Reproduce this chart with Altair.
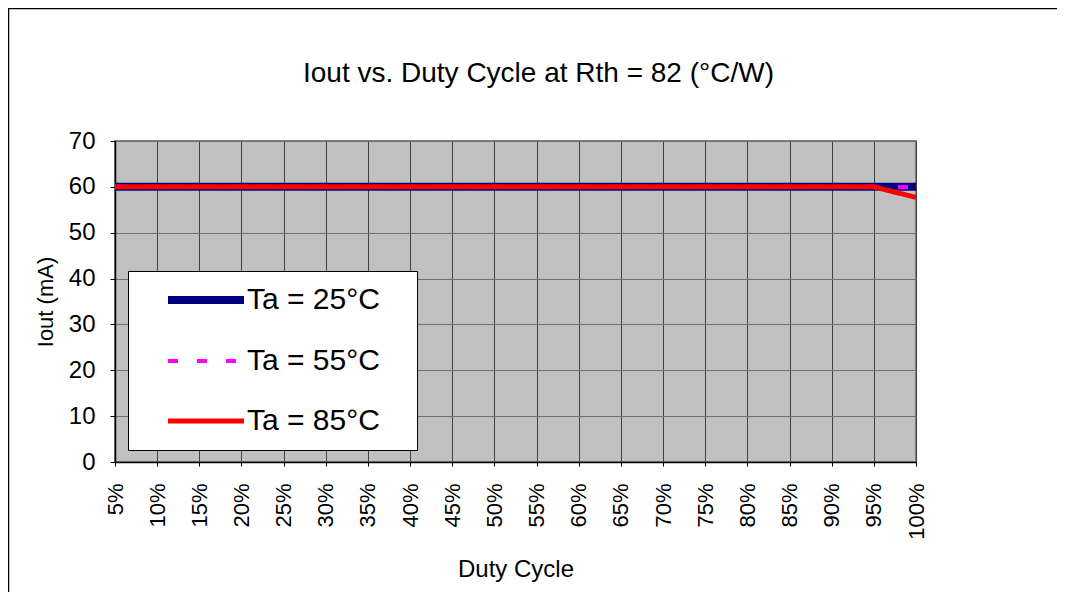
import altair as alt
import pandas as pd

duty = [5, 10, 15, 20, 25, 30, 35, 40, 45, 50, 55, 60, 65, 70, 75, 80, 85, 90, 95, 100]
ta25 = [60, 60, 60, 60, 60, 60, 60, 60, 60, 60, 60, 60, 60, 60, 60, 60, 60, 60, 60, 60]
ta55 = [60, 60, 60, 60, 60, 60, 60, 60, 60, 60, 60, 60, 60, 60, 60, 60, 60, 60, 60, 59.9]
ta85 = [60, 60, 60, 60, 60, 60, 60, 60, 60, 60, 60, 60, 60, 60, 60, 60, 60, 60, 60, 57.7]
series_names = ["Ta = 25°C", "Ta = 55°C", "Ta = 85°C"]
series_colors = ["#000080", "#FF00FF", "#FF0000"]
series_widths = [8, 4, 5]
series_dash = [[1, 0], [10, 19], [1, 0]]
x_ticks = duty
y_ticks = [0, 10, 20, 30, 40, 50, 60, 70]

rows = []
for name, vals in zip(series_names, [ta25, ta55, ta85]):
    for d, v in zip(duty, vals):
        rows.append({"duty": d, "iout": v, "series": name})
df = pd.DataFrame(rows)

FONT = "Liberation Sans"

x_enc = alt.X(
    "duty:Q",
    scale=alt.Scale(domain=[5, 100], nice=False, zero=False),
    axis=alt.Axis(
        values=x_ticks, labelExpr="datum.value + '%'", labelAngle=270,
        title="Duty Cycle", titleFontSize=24, titleFontWeight="normal",
        titlePadding=18, labelFontSize=22, labelPadding=17, tickSize=4,
        gridColor="#404040", gridWidth=1, domainColor="#000000", domainWidth=1.5,
        tickColor="#000000", labelColor="#000000", titleColor="#000000",
        labelFont=FONT, titleFont=FONT,
    ),
)
y_enc = alt.Y(
    "iout:Q",
    scale=alt.Scale(domain=[0, 70], nice=False),
    axis=alt.Axis(
        values=y_ticks, title="Iout (mA)", titleFontSize=22, titleFontWeight="normal",
        titlePadding=11, labelFontSize=24, labelPadding=15, tickSize=5,
        gridColor="#707070", gridWidth=1, domainColor="#000000", domainWidth=1.5,
        tickColor="#000000", labelColor="#000000", titleColor="#000000",
        labelFont=FONT, titleFont=FONT,
    ),
)

legend = alt.Legend(
    title="\u00a0", titleOrient="right", titlePadding=23, titleFontSize=2,
    orient="none", legendX=13, legendY=130,
    fillColor="#FFFFFF", strokeColor="#000000",
    symbolType="M-4,0L4,0", symbolSize=361, symbolOffset=49,
    labelFontSize=30, labelFont=FONT,
    labelColor="#000000", labelOffset=26, padding=14, rowPadding=30,
    labelLimit=500,
)

enc = dict(
    x=x_enc,
    y=y_enc,
    color=alt.Color("series:N", scale=alt.Scale(domain=series_names, range=series_colors), legend=legend),
    strokeDash=alt.StrokeDash("series:N", scale=alt.Scale(domain=series_names, range=series_dash), legend=legend),
    strokeWidth=alt.StrokeWidth("series:N", scale=alt.Scale(type="ordinal", domain=series_names, range=series_widths), legend=legend),
)

layers = []
for name in series_names:
    layers.append(
        alt.Chart(df).transform_filter(alt.datum.series == name)
        .mark_line(strokeCap="butt").encode(**enc)
    )

frame = alt.Chart(pd.DataFrame({"a": [0]})).mark_rect(
    fill=None, stroke="#000000", strokeWidth=1.5
).encode(
    x=alt.value(-106.5), x2=alt.value(960), y=alt.value(-132.5), y2=alt.value(480)
)

chart = alt.layer(*layers, frame).properties(
    width=801, height=321,
    autosize=alt.AutoSizeParams(type="none"),
    padding={"left": 107, "top": 133, "right": 141, "bottom": 130},
    background="#FFFFFF",
    title=alt.TitleParams(
        "Iout vs. Duty Cycle at Rth = 82 (°C/W)", fontSize=28, fontWeight="normal",
        font=FONT, color="#000000", anchor="middle", dx=23, offset=-80,
    ),
).configure_view(stroke="#808080", strokeWidth=2, fill="#C0C0C0")

chart.save("out.html", embed_options={"renderer": "svg", "actions": False})
